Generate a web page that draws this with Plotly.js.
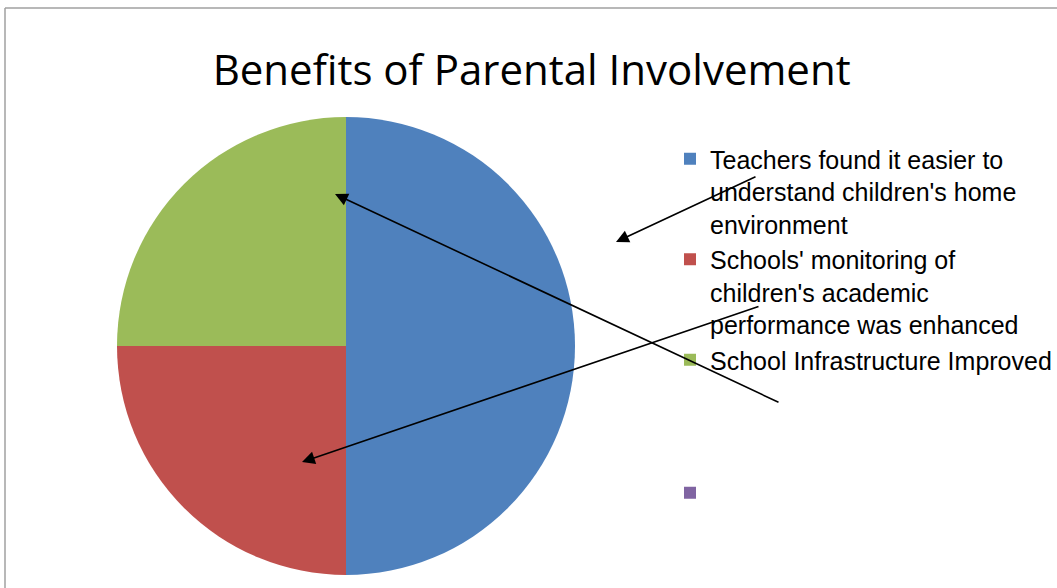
<!DOCTYPE html>
<html>
<head>
<meta charset="utf-8">
<script src="https://cdn.plot.ly/plotly-3.0.1.min.js"></script>
<style>
html,body{margin:0;padding:0;background:#fff;}
#chart{width:1057px;height:588px;}
</style>
</head>
<body>
<div id="chart"></div>
<script>
// Data
var categories = [
  "Teachers found it easier to<br>understand children's home<br>environment",
  "Schools' monitoring of<br>children's academic<br>performance was enhanced",
  "School Infrastructure Improved<br> <br> <br> ",
  " "
];
var values = [50, 25, 25, 0];
var colors = ["#4F81BD", "#C0504D", "#9BBB59", "#8064A2"];
var chartTitle = "Benefits of Parental Involvement";

var W = 1057, H = 588;
function px(x){ return x / W; }
function py(y){ return 1 - y / H; }

// arrows: [headX, headY, tailX, tailY] in pixels
var arrows = [
  [616, 242, 757, 176],
  [302, 462, 760, 306],
  [335, 194, 780, 403]
];

var trace = {
  type: "pie",
  labels: categories,
  values: values,
  marker: {colors: colors, line: {width: 0}},
  sort: false,
  direction: "clockwise",
  rotation: 0,
  textinfo: "none",
  hoverinfo: "label+percent",
  domain: {x: [px(346-229), px(346+229)], y: [1-(346+229)/H, 1-(346-229)/H]}
};

var annotations = arrows.map(function(a){
  return {
    xref: "paper", yref: "paper",
    x: px(a[0]), y: py(a[1]),
    ax: a[2]-a[0], ay: a[3]-a[1],
    axref: "pixel", ayref: "pixel",
    text: "", showarrow: true,
    arrowhead: 2, arrowsize: 1.6, arrowwidth: 1.6, arrowcolor: "#000"
  };
});

var layout = {
  width: W, height: H,
  margin: {l: 0, r: 0, t: 0, b: 0},
  paper_bgcolor: "#fff",
  title: {
    text: chartTitle,
    font: {family: "Open Sans, Arial, sans-serif", size: 42, color: "#000"},
    x: 0.503, xanchor: "center",
    y: py(70), yanchor: "middle"
  },
  showlegend: true,
  legend: {
    x: px(670), y: py(136), xanchor: "left", yanchor: "top",
    font: {family: "Liberation Sans, Arial, sans-serif", size: 25, color: "#000"},
    valign: "top",
    bgcolor: "rgba(0,0,0,0)",
    itemwidth: 30
  },
  annotations: annotations,
  shapes: [
    {type: "line", xref: "paper", yref: "paper", x0: px(5), x1: 1.01, y0: py(8), y1: py(8), line: {color: "#A0A0A0", width: 1.5}},
    {type: "line", xref: "paper", yref: "paper", x0: px(5), x1: px(5), y0: py(8), y1: -0.01, line: {color: "#A0A0A0", width: 1.5}}
  ]
};

Plotly.newPlot("chart", [trace], layout, {displayModeBar: false, staticPlot: true});
</script>
</body>
</html>
